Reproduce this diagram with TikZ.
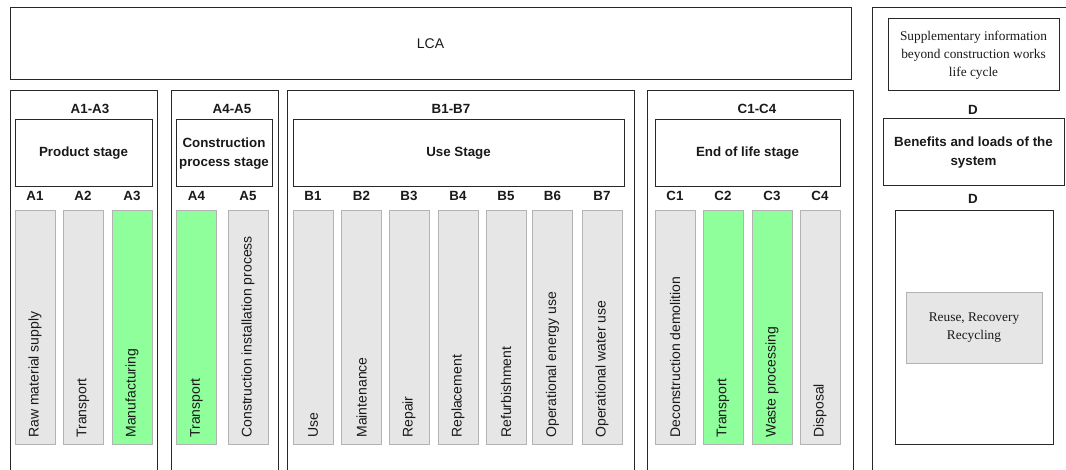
\documentclass[tikz,border=0pt]{standalone}
\usepackage{fontspec}
\setmainfont{Liberation Sans}
\newfontfamily\timesfont{Liberation Serif}
\usepackage{tikz}
\usetikzlibrary{positioning}
\definecolor{barfill}{RGB}{230,230,230}
\definecolor{bardraw}{RGB}{179,179,179}
\definecolor{keepgreen}{RGB}{143,255,156}
\definecolor{framedraw}{RGB}{40,40,40}
\definecolor{textgray}{RGB}{25,25,25}

\begin{document}
\begin{tikzpicture}[
    x=0.75pt, y=-0.75pt,
    % frames, stage boxes and module bars
    frame/.style={rectangle, draw=framedraw, line width=0.75pt, inner sep=0pt, text=textgray},
    group/.style={frame, minimum height=291.75pt},
    stagebox/.style={frame, align=center, font=\bfseries\fontsize{10}{14}\selectfont, minimum height=50.25pt},
    code/.style={inner sep=0pt, text=textgray, font=\bfseries\fontsize{10}{12}\selectfont},
    bar/.style={rectangle, draw=bardraw, fill=barfill, line width=0.75pt, minimum width=30pt, minimum height=174.75pt, inner sep=0pt},
    hot/.style={bar, fill=keepgreen},
    bartext/.style={rotate=90, anchor=west, inner sep=0pt, text=textgray, font=\fontsize{10.5}{12}\selectfont},
    serifbox/.style={frame, align=center, font=\timesfont\fontsize{10}{13.5}\selectfont}
]
\useasboundingbox (0,0) rectangle (1066,470);
\clip (0,0) rectangle (1066,470);

% Top banner
\node [frame, minimum width=630.75pt, minimum height=54pt, font=\fontsize{10.5}{12}\selectfont] (lca) at (430.5,44) {LCA};

% Module D column
\node [frame, minimum width=152.25pt, minimum height=354pt] (dframe) at (973.5,244) {};
\node [serifbox, minimum width=128.25pt, minimum height=54pt] (supp) at (973.5,55) {Supplementary information\\beyond construction works\\life cycle};
\node [code] (dcode) at (973,110) {D};
\node [stagebox, minimum width=135.75pt] (benefits) at (973.5,152.5) {Benefits and loads of the\\system};
\node [code] (dmod) at (973,199) {D};
\node [frame, minimum width=118.5pt, minimum height=174.75pt] (dinner) at (974,327.5) {};
\node [serifbox, draw=bardraw, fill=barfill, minimum width=102pt, minimum height=53.25pt] (reuse) at (974,327.5) {Reuse, Recovery\\Recycling};

% Stage groups
\node [group, minimum width=110.25pt] (prod) at (83.5,285.5) {};
\node [group, minimum width=80.25pt] (constr) at (224.5,285.5) {};
\node [group, minimum width=260.25pt] (use) at (460.5,285.5) {};
\node [group, minimum width=154.5pt] (eol) at (750,285.5) {};

\node [code] (prodcode) at (90,109) {A1-A3};
\node [code] (constrcode) at (232,109) {A4-A5};
\node [code] (usecode) at (451,109) {B1-B7};
\node [code] (eolcode) at (757,109) {C1-C4};

\node [stagebox, minimum width=102.75pt] (prodstage) at (83.5,153.5) {Product stage};
\node [stagebox, minimum width=72pt] (constrstage) at (224,153.5) {Construction\\process stage};
\node [stagebox, minimum width=248.25pt] (usestage) at (458.5,153.5) {Use Stage};
\node [stagebox, minimum width=138.75pt] (eolstage) at (747.5,153.5) {End of life stage};

% Row of modules
\node [bar] (a1) at (35,327.5) {};
\node [bar] (a2) at (83,327.5) {};
\node [hot] (a3) at (132,327.5) {};
\node [hot] (a4) at (196.5,327.5) {};
\node [bar] (a5) at (248,327.5) {};
\node [bar] (b1) at (313,327.5) {};
\node [bar] (b2) at (361.5,327.5) {};
\node [bar] (b3) at (409,327.5) {};
\node [bar] (b4) at (458,327.5) {};
\node [bar] (b5) at (506,327.5) {};
\node [bar] (b6) at (552.5,327.5) {};
\node [bar] (b7) at (602,327.5) {};
\node [bar] (c1) at (675,327.5) {};
\node [hot] (c2) at (723,327.5) {};
\node [hot] (c3) at (772,327.5) {};
\node [bar] (c4) at (820,327.5) {};

% Module codes
\node [code, above=7pt of a1] (a1code) {A1};
\node [code, above=7pt of a2] (a2code) {A2};
\node [code, above=7pt of a3] (a3code) {A3};
\node [code, above=7pt of a4] (a4code) {A4};
\node [code, above=7pt of a5] (a5code) {A5};
\node [code, above=7pt of b1] (b1code) {B1};
\node [code, above=7pt of b2] (b2code) {B2};
\node [code, above=7pt of b3] (b3code) {B3};
\node [code, above=7pt of b4] (b4code) {B4};
\node [code, above=7pt of b5] (b5code) {B5};
\node [code, above=7pt of b6] (b6code) {B6};
\node [code, above=7pt of b7] (b7code) {B7};
\node [code, above=7pt of c1] (c1code) {C1};
\node [code, above=7pt of c2] (c2code) {C2};
\node [code, above=7pt of c3] (c3code) {C3};
\node [code, above=7pt of c4] (c4code) {C4};

% Module names
\node [bartext] (a1text) at ([yshift=5pt]a1.south) {Raw material supply};
\node [bartext] (a2text) at ([yshift=5pt]a2.south) {Transport};
\node [bartext] (a3text) at ([yshift=5pt]a3.south) {Manufacturing};
\node [bartext] (a4text) at ([yshift=5pt]a4.south) {Transport};
\node [bartext] (a5text) at ([yshift=5pt]a5.south) {Construction installation process};
\node [bartext] (b1text) at ([yshift=5pt]b1.south) {Use};
\node [bartext] (b2text) at ([yshift=5pt]b2.south) {Maintenance};
\node [bartext] (b3text) at ([yshift=5pt]b3.south) {Repair};
\node [bartext] (b4text) at ([yshift=5pt]b4.south) {Replacement};
\node [bartext] (b5text) at ([yshift=5pt]b5.south) {Refurbishment};
\node [bartext] (b6text) at ([yshift=5pt]b6.south) {Operational energy use};
\node [bartext] (b7text) at ([yshift=5pt]b7.south) {Operational water use};
\node [bartext] (c1text) at ([yshift=5pt]c1.south) {Deconstruction demolition};
\node [bartext] (c2text) at ([yshift=5pt]c2.south) {Transport};
\node [bartext] (c3text) at ([yshift=5pt]c3.south) {Waste processing};
\node [bartext] (c4text) at ([yshift=5pt]c4.south) {Disposal};

\end{tikzpicture}
\end{document}
